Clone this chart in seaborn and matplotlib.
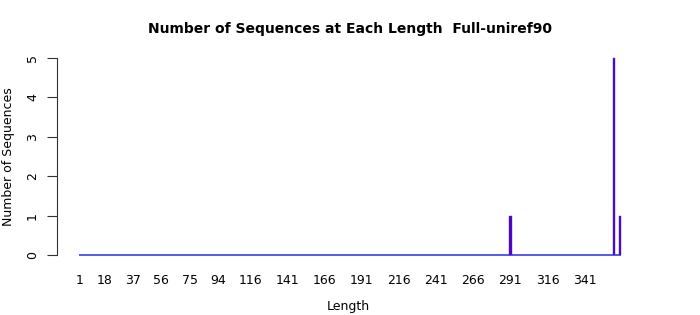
import numpy as np
import pandas as pd
import matplotlib
matplotlib.use("Agg")
import matplotlib.pyplot as plt
import seaborn as sns

# Data
bar_lengths = [291, 361, 365]
bar_counts = [1, 5, 1]
length_min, length_max = 1, 365
tick_labels = [1, 18, 37, 56, 75, 94, 116, 141, 166, 191, 216, 241, 266, 291, 316, 341]
y_ticks = [0, 1, 2, 3, 4, 5]

title = "Number of Sequences at Each Length  Full-uniref90"

sns.set_style("white")
plt.rcParams['font.family'] = ['DejaVu Sans']
plt.rcParams['text.color'] = 'black'
plt.rcParams['axes.labelcolor'] = 'black'
plt.rcParams['xtick.color'] = 'black'
plt.rcParams['ytick.color'] = 'black'

fig = plt.figure(figsize=(7, 3.15), dpi=100)
ax = fig.add_axes([57 / 700, (315 - 255) / 315, (640 - 57) / 700, (255 - 58) / 315])

df = pd.DataFrame({"Length": bar_lengths, "Count": bar_counts})

# baseline of zero-height bars
ax.hlines(0, length_min - 0.6, length_max + 0.6, color="#3c3ce6", linewidth=1.2, zorder=2, clip_on=False)

# native_scale width is relative to the smallest gap between lengths (4)
sns.barplot(data=df, x="Length", y="Count", native_scale=True, ax=ax,
            color="#5000c0", saturation=1, width=0.4,
            edgecolor="#4a30e0", linewidth=0.3, zorder=3)
for p in ax.patches:
    p.set_clip_on(False)

ax.set_xlim(-14.3, 378.3)
ax.set_ylim(0, 5)

ax.set_xticks(tick_labels)
ax.set_xticklabels([str(t) for t in tick_labels], fontsize=9)
ax.tick_params(axis="x", length=0, pad=14)
ax.set_yticks(y_ticks)
ax.set_yticklabels([str(t) for t in y_ticks], fontsize=9, rotation=90, va="center")
ax.tick_params(axis="y", length=7, width=0.8, color="#333333", pad=6, direction="out", left=True)

for s in ["top", "right", "bottom"]:
    ax.spines[s].set_visible(False)
ax.spines["left"].set_color("#333333")
ax.spines["left"].set_linewidth(0.8)

ax.set_xlabel("Length", fontsize=9, labelpad=9)
ax.set_ylabel("Number of Sequences", fontsize=9, labelpad=8)
fig.text(350 / 700, 1 - 29 / 315, title, fontsize=10, fontweight="bold", ha="center", va="center")

fig.savefig("out.png", dpi=100)
